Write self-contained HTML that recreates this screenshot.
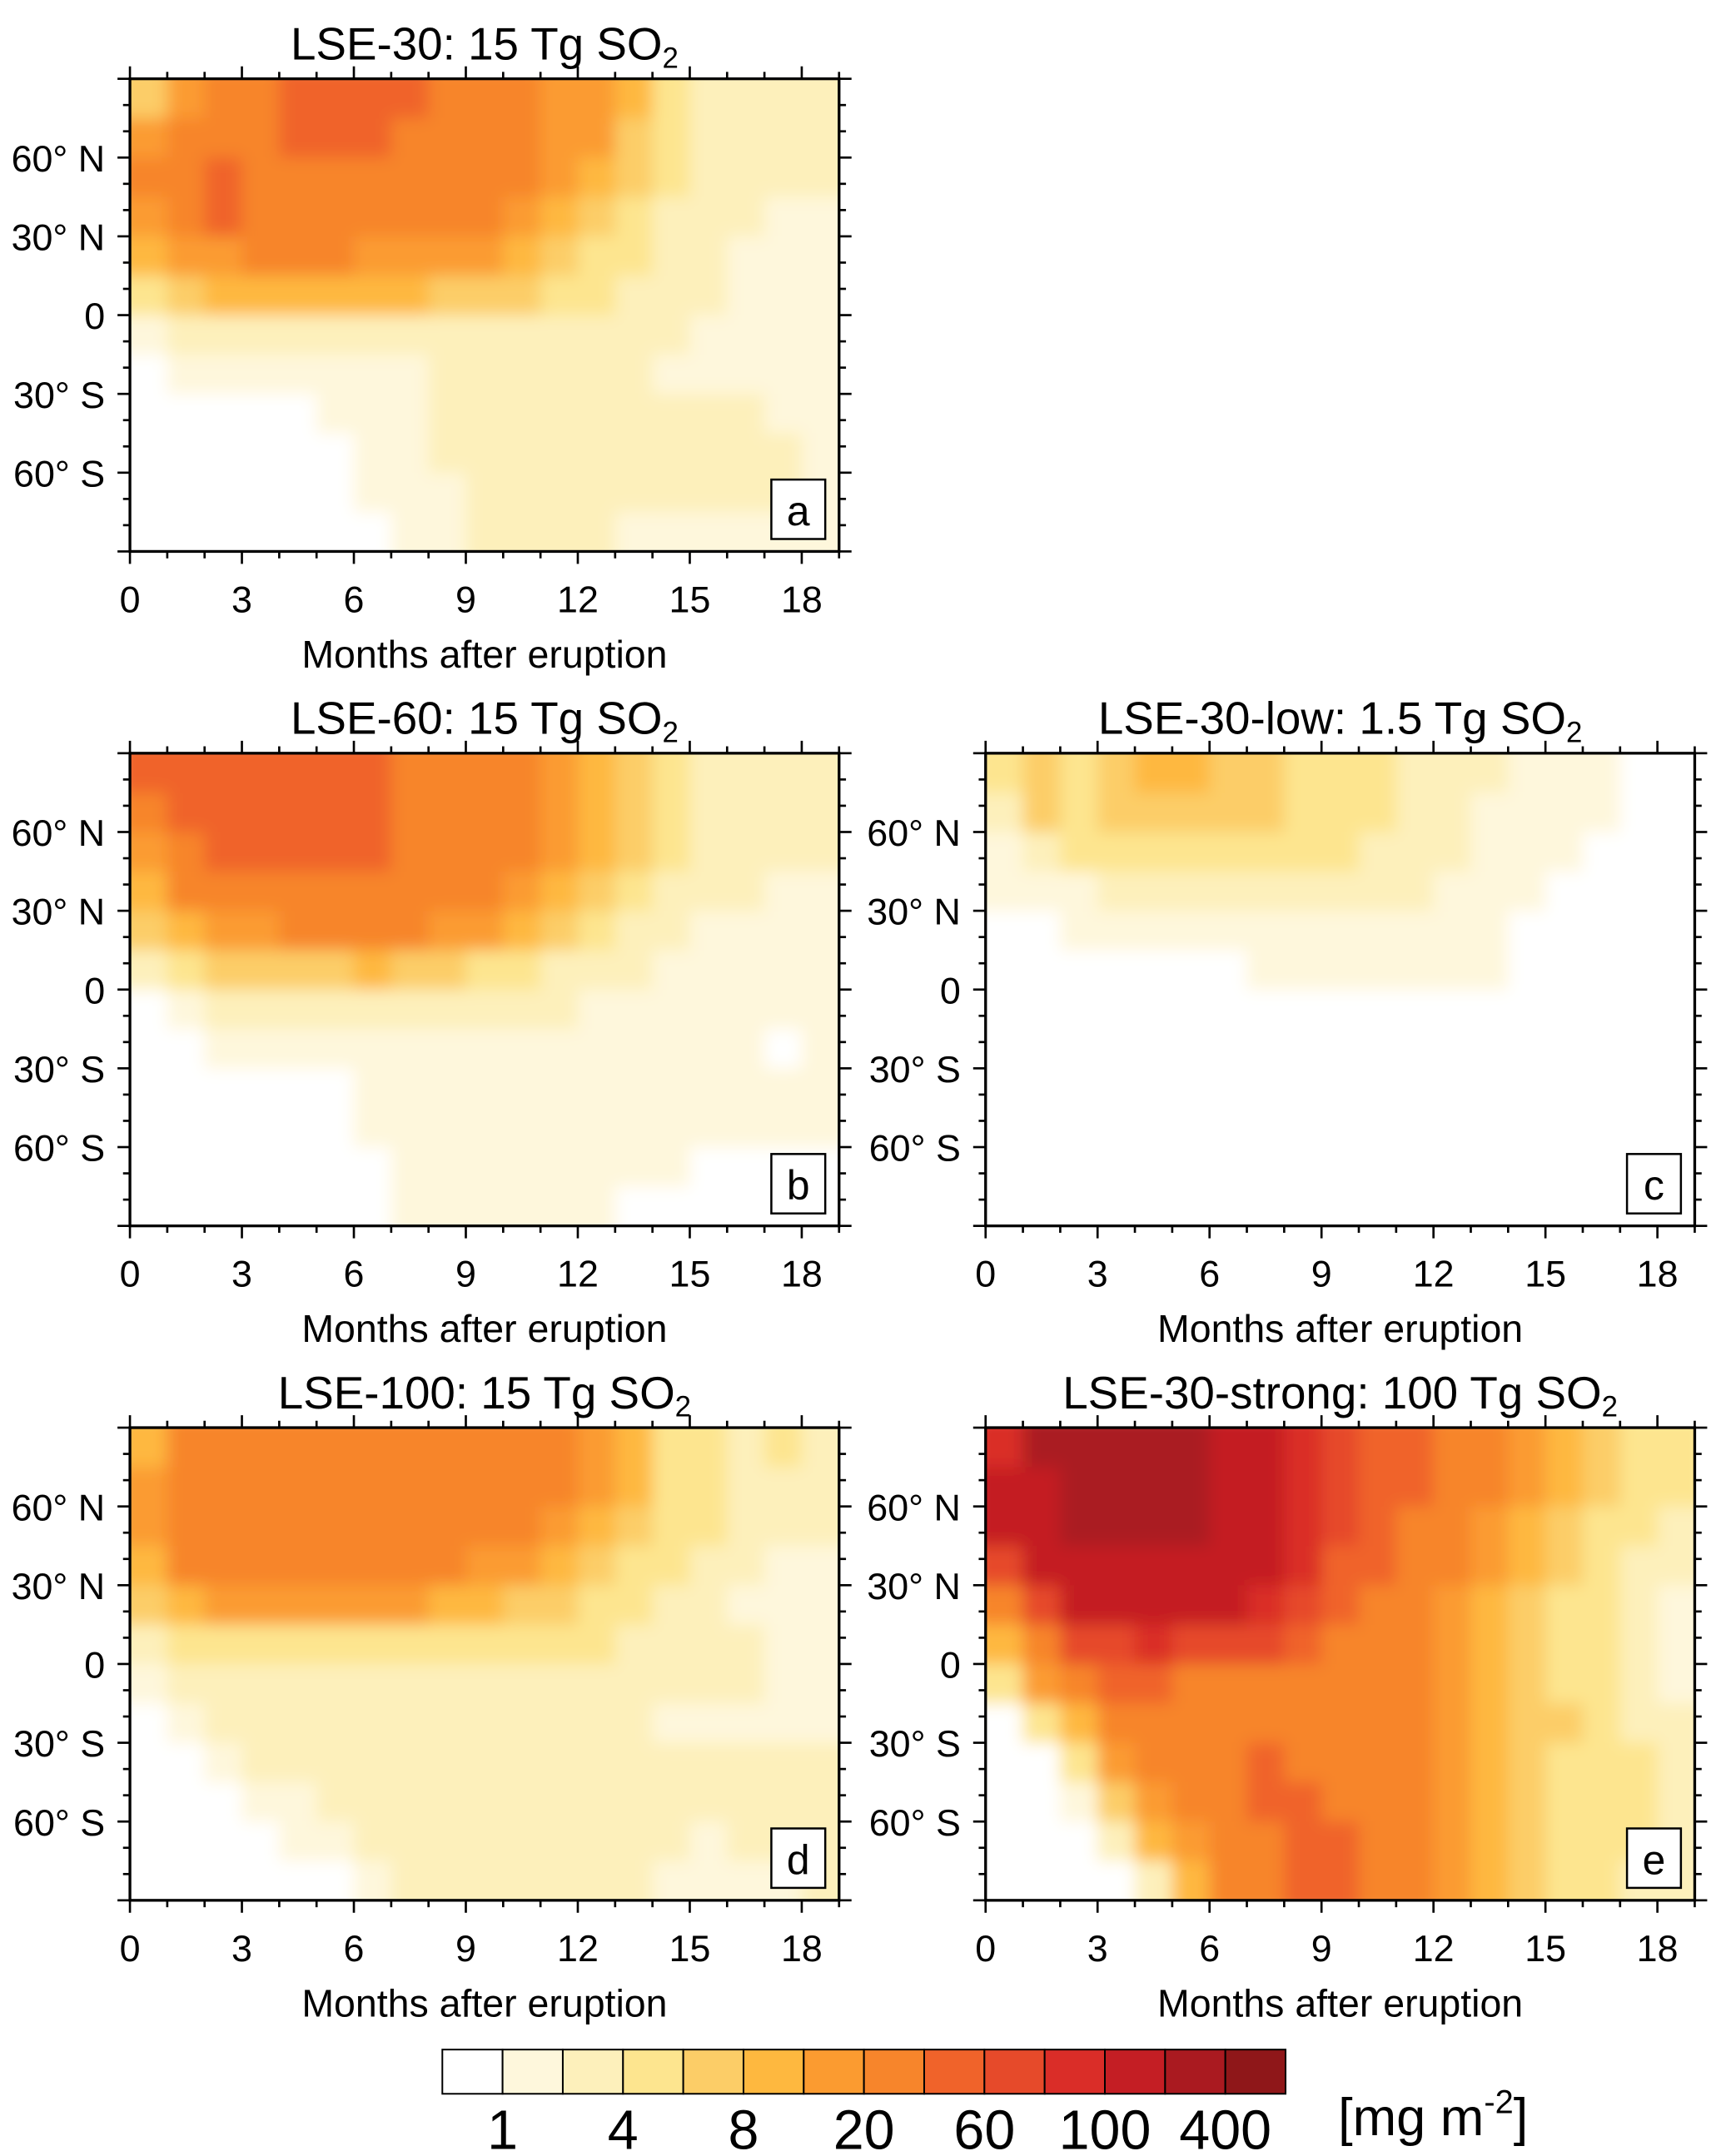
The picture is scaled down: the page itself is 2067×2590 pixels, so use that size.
<!DOCTYPE html>
<html><head><meta charset="utf-8"><style>
html,body{margin:0;padding:0;background:#fff}
svg{display:block}
text{font-family:"Liberation Sans",sans-serif;fill:#000}
</style></head><body>
<svg id="fig" width="2067" height="2590" viewBox="0 0 1245 1560" xmlns="http://www.w3.org/2000/svg">
<defs><filter id="blur" x="-5%" y="-5%" width="110%" height="110%"><feGaussianBlur stdDeviation="6"/></filter></defs>
</svg>
<script>
const colors=["#ffffff","#fef7dc","#fdf0bb","#fde58f","#fccd67","#feb83f","#fb9b30","#f7852b","#f0632a","#e64a2a","#da2d28","#c41e24","#aa1a20","#8f1719"];
const cbLabels=["1","4","8","20","60","100","400"];
const xTicks=[0,3,6,9,12,15,18];
const yTicks=[60,30,0,-30,-60];
const yTickLabels=["60° N","30° N","0","30° S","60° S"];
// class index grids: rows 90N..90S in 15° bands, columns month 0..18
const gridA=[
[4,6,7,7,8,8,8,8,7,7,7,6,6,5,3,2,2,2,2],
[6,7,7,7,8,8,8,7,7,7,7,6,6,4,3,2,2,2,2],
[7,7,8,7,7,7,7,7,7,7,7,6,5,4,3,2,2,2,2],
[6,7,8,7,7,7,7,7,7,7,6,5,4,3,2,2,2,1,1],
[5,6,6,7,7,7,6,6,6,6,5,4,3,3,2,2,1,1,1],
[3,4,5,5,5,5,5,5,4,4,4,3,3,2,2,2,1,1,1],
[1,2,2,2,2,2,2,2,2,2,2,2,2,2,2,1,1,1,1],
[0,1,1,1,1,1,1,1,2,2,2,2,2,2,1,1,1,1,1],
[0,0,0,0,0,1,1,1,2,2,2,2,2,2,2,2,2,1,1],
[0,0,0,0,0,0,1,1,2,2,2,2,2,2,2,2,2,2,1],
[0,0,0,0,0,0,1,1,1,2,2,2,2,2,2,2,2,2,1],
[0,0,0,0,0,0,0,1,1,2,2,2,2,1,1,1,1,1,1]];
const gridB=[
[8,8,8,8,8,8,8,7,7,7,7,6,5,4,3,2,2,2,2],
[7,8,8,8,8,8,8,7,7,7,7,6,5,4,3,2,2,2,2],
[6,7,8,8,8,8,8,7,7,7,7,6,5,4,3,2,2,2,2],
[5,7,7,7,7,7,7,7,7,7,6,5,4,3,2,2,2,1,1],
[4,5,6,6,7,7,7,7,6,6,5,4,3,2,2,1,1,1,1],
[2,3,4,4,4,4,5,4,4,3,3,2,2,2,1,1,1,1,1],
[0,1,2,2,2,2,2,2,2,2,2,2,1,1,1,1,1,1,1],
[0,0,1,1,1,1,1,1,1,1,1,1,1,1,1,1,1,0,1],
[0,0,0,0,0,0,1,1,1,1,1,1,1,1,1,1,1,1,1],
[0,0,0,0,0,0,1,1,1,1,1,1,1,1,1,1,1,1,1],
[0,0,0,0,0,0,0,1,1,1,1,1,1,1,1,0,0,0,0],
[0,0,0,0,0,0,0,1,1,1,1,1,1,0,0,0,0,0,0]];
const gridC=[
[3,4,3,4,5,5,4,4,3,3,3,2,2,2,1,1,1,0,0],
[2,4,3,4,4,4,4,4,3,3,3,2,2,1,1,1,1,0,0],
[1,2,3,3,3,3,3,3,3,3,2,2,2,1,1,1,0,0,0],
[1,1,1,2,2,2,2,2,2,2,2,2,1,1,1,0,0,0,0],
[0,0,1,1,1,1,1,1,1,1,1,1,1,1,0,0,0,0,0],
[0,0,0,0,0,0,0,1,1,1,1,1,1,1,0,0,0,0,0],
[0,0,0,0,0,0,0,0,0,0,0,0,0,0,0,0,0,0,0],
[0,0,0,0,0,0,0,0,0,0,0,0,0,0,0,0,0,0,0],
[0,0,0,0,0,0,0,0,0,0,0,0,0,0,0,0,0,0,0],
[0,0,0,0,0,0,0,0,0,0,0,0,0,0,0,0,0,0,0],
[0,0,0,0,0,0,0,0,0,0,0,0,0,0,0,0,0,0,0],
[0,0,0,0,0,0,0,0,0,0,0,0,0,0,0,0,0,0,0]];
const gridD=[
[5,7,7,7,7,7,7,7,7,7,7,7,6,5,3,3,2,3,2],
[6,7,7,7,7,7,7,7,7,7,7,7,6,5,3,3,2,2,2],
[6,7,7,7,7,7,7,7,7,7,7,6,5,4,3,3,2,2,2],
[5,7,7,7,7,7,7,7,7,6,6,5,4,3,3,2,2,1,1],
[4,5,6,6,6,6,6,6,5,5,4,4,3,3,2,2,1,1,1],
[2,3,3,3,3,3,3,3,3,3,3,3,3,2,2,2,2,1,1],
[1,2,2,2,2,2,2,2,2,2,2,2,2,2,2,2,2,1,1],
[0,1,2,2,2,2,2,2,2,2,2,2,2,2,1,1,1,1,1],
[0,0,1,2,2,2,2,2,2,2,2,2,2,2,2,2,2,2,2],
[0,0,0,1,1,2,2,2,2,2,2,2,2,2,2,2,2,2,2],
[0,0,0,0,1,1,2,2,2,2,2,2,2,2,2,1,2,2,2],
[0,0,0,0,0,0,1,2,2,2,2,2,2,2,1,1,1,1,2]];
const gridE=[
[10,12,12,12,12,12,11,11,10,9,8,8,7,7,6,5,4,3,3],
[11,11,12,12,12,12,11,11,10,9,8,8,7,7,6,5,4,3,3],
[11,11,12,12,12,12,11,11,10,9,8,7,7,6,5,4,3,3,2],
[9,11,11,11,11,11,11,11,10,8,8,7,7,6,5,4,3,2,2],
[7,9,11,11,11,11,11,10,9,8,7,7,6,5,4,3,3,2,1],
[5,7,9,9,10,9,9,9,8,7,7,7,6,5,4,3,3,2,1],
[3,6,7,8,8,7,7,7,7,7,7,7,6,5,4,3,3,2,1],
[0,3,5,7,7,7,7,7,7,7,7,7,6,5,4,4,3,2,2],
[0,0,3,6,7,7,7,8,7,7,7,7,6,5,4,3,3,3,2],
[0,0,1,4,6,7,7,8,8,7,7,7,6,5,4,3,3,3,2],
[0,0,0,2,5,6,7,7,8,8,7,7,6,5,4,3,3,3,2],
[0,0,0,0,2,5,7,7,8,8,7,7,6,5,4,3,3,2,2]];

const NS="http://www.w3.org/2000/svg";
const svg=document.getElementById("fig");
function mk(tag,attrs,parent){const e=document.createElementNS(NS,tag);for(const k in attrs)e.setAttribute(k,attrs[k]);(parent||svg).appendChild(e);return e;}
const W=513,H=342,XMAX=19;
const panels=[
{grid:gridA,x:94,y:57,title:"LSE-30: 15 Tg SO",lab:"a",name:"panel-a"},
{grid:gridB,x:94,y:545,title:"LSE-60: 15 Tg SO",lab:"b",name:"panel-b"},
{grid:gridC,x:713,y:545,title:"LSE-30-low: 1.5 Tg SO",lab:"c",name:"panel-c"},
{grid:gridD,x:94,y:1033,title:"LSE-100: 15 Tg SO",lab:"d",name:"panel-d"},
{grid:gridE,x:713,y:1033,title:"LSE-30-strong: 100 Tg SO",lab:"e",name:"panel-e"}];
panels.forEach((p,pi)=>{
  const g=mk("g",{});
  
  
  const xs=m=>p.x+m/XMAX*W;
  const ys=lat=>p.y+(90-lat)/180*H;
  const cid="clip"+pi;
  const cp=mk("clipPath",{id:cid},g);mk("rect",{x:p.x,y:p.y,width:W,height:H},cp);
  const cg=mk("g",{"clip-path":`url(#${cid})`},g);
  const fg=mk("g",{filter:"url(#blur)"},cg);
  p.grid.forEach((row,r)=>row.forEach((v,c)=>{
    const x0=xs(c),x1=xs(c+1),y0=ys(90-15*r),y1=ys(75-15*r);
    const cell=mk("rect",{x:x0-(c==0?10:0),y:y0-(r==0?10:0),width:x1-x0+(c==0?10:0)+(c==row.length-1?(W-(x1-p.x))+10:0)+0.6,height:y1-y0+(r==0||r==11?10:0)+0.6,fill:colors[v]},fg);
    
    
  }));
  mk("rect",{x:p.x,y:p.y,width:W,height:H,fill:"none",stroke:"#000","stroke-width":2},g);
  for(let m=0;m<=19;m++){const x=xs(m);const L=(m%3==0)?9:5;
    mk("line",{x1:x,y1:p.y+H,x2:x,y2:p.y+H+L,stroke:"#000","stroke-width":1.6},g);
    mk("line",{x1:x,y1:p.y,x2:x,y2:p.y-L,stroke:"#000","stroke-width":1.6},g);}
  xTicks.forEach(m=>{const t=mk("text",{x:xs(m),y:p.y+H+44,"font-size":27,"text-anchor":"middle"},g);t.textContent=m;
    });
  for(let lat=-90;lat<=90;lat+=10){const y=ys(lat);const L=(lat%30==0)?9:5;
    mk("line",{x1:p.x,y1:y,x2:p.x-L,y2:y,stroke:"#000","stroke-width":1.6},g);
    mk("line",{x1:p.x+W,y1:y,x2:p.x+W+L,y2:y,stroke:"#000","stroke-width":1.6},g);}
  yTicks.forEach((lat,i)=>{const t=mk("text",{x:p.x-18,y:ys(lat)+10,"font-size":27,"text-anchor":"end"},g);t.textContent=yTickLabels[i];
    });
  const xt=mk("text",{x:p.x+W/2,y:p.y+H+84,"font-size":28,"text-anchor":"middle"},g);xt.textContent="Months after eruption";
  
  const tt=mk("text",{x:p.x+W/2,y:p.y-14,"font-size":33,"text-anchor":"middle"},g);
  tt.textContent=p.title;const sub=mk("tspan",{"font-size":21,dy:6},tt);sub.textContent="2";
  
  mk("rect",{x:p.x+W-49,y:p.y+H-52,width:39,height:43,fill:"#fff",stroke:"#000","stroke-width":1.5},g);
  const lb=mk("text",{x:p.x+W-29.5,y:p.y+H-19,"font-size":30,"text-anchor":"middle"},g);lb.textContent=p.lab;
  
});
const cb=mk("g",{});


const cbx=320,cby=1483,cbw=610/14,cbh=32;
colors.forEach((c,i)=>{const r=mk("rect",{x:cbx+i*cbw,y:cby,width:cbw,height:cbh,fill:c,stroke:"#000","stroke-width":1.2},cb);
  });
cbLabels.forEach((l,i)=>{const t=mk("text",{x:cbx+(1+2*i)*cbw,y:1555,"font-size":40,"text-anchor":"middle"},cb);t.textContent=l;
  });
const u=mk("text",{x:968,y:1545,"font-size":38},cb);u.textContent="[mg m";
const us=mk("tspan",{"font-size":24,dy:-16},u);us.textContent="-2";
const ue=mk("tspan",{dy:16},u);ue.textContent="]";

</script>
</body></html>
